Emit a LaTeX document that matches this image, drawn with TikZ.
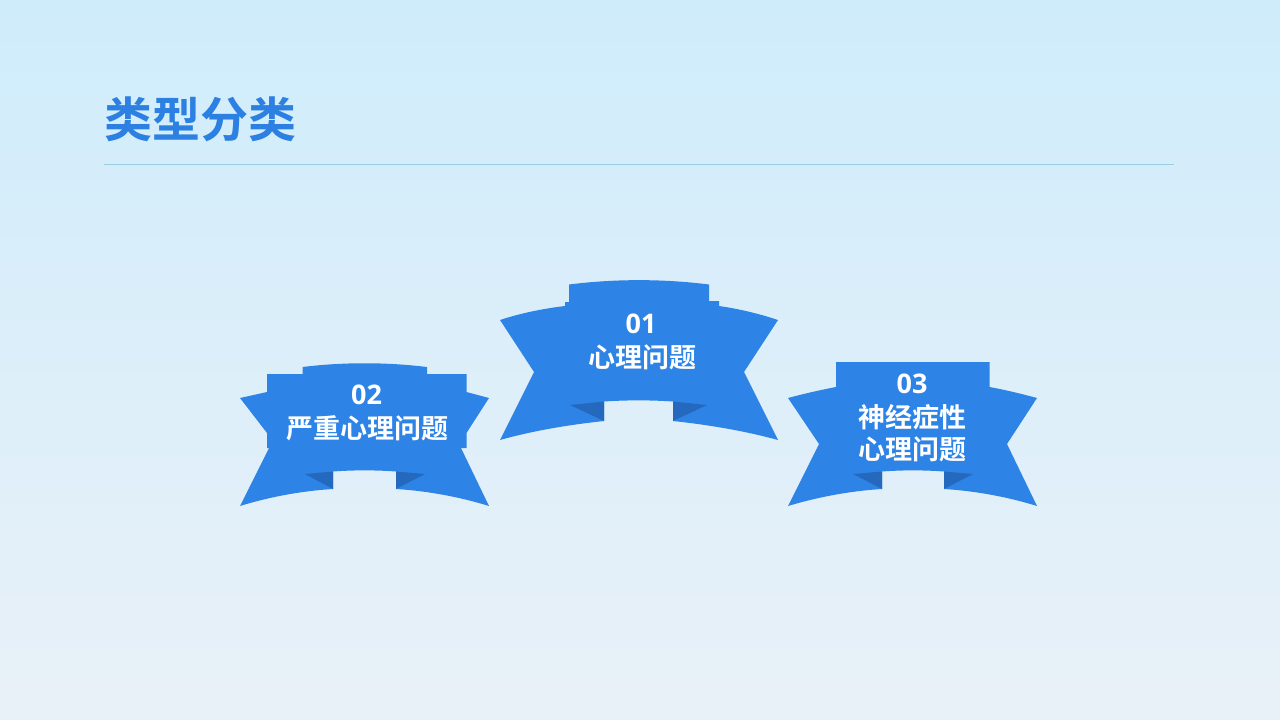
\documentclass[tikz,border=0pt]{standalone}
\usepackage{fontspec}
\setmainfont{Noto Sans CJK SC}[BoldFont={Noto Sans CJK SC Bold}]
\newfontfamily\digitfont{Open Sans}[BoldFont={Open Sans Bold}]
\definecolor{ribbon}{HTML}{2E84E6}
\definecolor{folddark}{HTML}{2569BE}
\definecolor{titleblue}{HTML}{2C80E2}
\definecolor{ruleteal}{HTML}{9CCDE0}
\definecolor{bgtop}{HTML}{CFECFB}
\definecolor{bgbot}{HTML}{E9F1F8}
\tikzset{
  ribbonfill/.style={fill=ribbon,draw=none},
  foldfill/.style={fill=folddark,draw=none},
  label/.style={text=white,font=\bfseries\fontsize{27}{33}\selectfont,align=center,inner sep=0pt},
  num/.style={text=white,font=\digitfont\bfseries\fontsize{27}{33}\selectfont,inner sep=0pt}
}
\begin{document}
\begin{tikzpicture}[x=1pt,y=-1pt]
\useasboundingbox (0,0) rectangle (1280,720);
\shade[top color=bgtop,bottom color=bgbot] (0,0) rectangle (1280,720);
\node[text=titleblue,font=\bfseries\fontsize{48}{58}\selectfont,inner sep=0pt,anchor=west] (title) at (104,119) {类型分类};
\coordinate (ruleL) at (104,164.5);
\coordinate (ruleR) at (1174,164.5);
\draw[ruleteal,line width=0.9pt] (ruleL) -- (ruleR);
% ribbon 01
\fill[ribbonfill] (569,284.5) .. controls (615,278.7) and (663,278.7) .. (709,284.5) -- (709,301) -- (719,301) -- (719,306)
  .. controls (740,309) and (760,314) .. (778,320) -- (744,372) -- (778,440)
  .. controls (745,431) and (710,425) .. (673,421) -- (673,401.5) .. controls (650,400) and (627,400) .. (604,401.5) -- (604,421)
  .. controls (567,425) and (532,431) .. (500,440) -- (534,372) -- (500,320)
  .. controls (518,314) and (540,309) .. (565,306) -- (565,302) -- (569,302) -- cycle;
\fill[foldfill] (570,405) -- (604,401.5) -- (604,421) -- cycle;
\fill[foldfill] (673,401.5) -- (707,405) -- (673,421) -- cycle;
\node[num] (n1) at (641,323.5) {01};
\node[label] (t1) at (642.5,357) {心理问题};
% ribbon 02
\fill[ribbonfill] (302.5,367) .. controls (343,362) and (386,362) .. (427,367) -- (427,374) -- (466.5,374) -- (466.5,392) -- (489,398) -- (466.5,433) -- (466.5,448) -- (461,448) -- (489,506)
  .. controls (460,497) and (428,491) .. (396,489) -- (396,471.5) .. controls (375,470) and (354,470) .. (333,471.5) -- (333,489)
  .. controls (301,491) and (269,497) .. (240,506) -- (269,448) -- (267,448) -- (267,433) -- (240,398) -- (267,392) -- (267,374) -- (302.5,374) -- cycle;
\fill[foldfill] (305,474) -- (333,471.5) -- (333,489) -- cycle;
\fill[foldfill] (396,471.5) -- (425,474) -- (396,489) -- cycle;
\node[num] (n2) at (366.5,395) {02};
\node[label] (t2) at (367,428) {严重心理问题};
% ribbon 03
\fill[ribbonfill] (836,362) -- (989.5,362) -- (989.5,387) .. controls (1006,390) and (1022,394) .. (1037,398) -- (1007,444) -- (1037,506)
  .. controls (1008,497) and (976,491) .. (944,489) -- (944,471.5) .. controls (923,470) and (903,470) .. (882,471.5) -- (882,489)
  .. controls (850,491) and (818,497) .. (788,506) -- (819,444) -- (788,398)
  .. controls (803,394) and (820,390) .. (836,387) -- cycle;
\fill[foldfill] (853,474) -- (882,471.5) -- (882,489) -- cycle;
\fill[foldfill] (944,471.5) -- (973,474) -- (944,489) -- cycle;
\node[num] (n3) at (912,384) {03};
\node[label] (t3a) at (912.5,417) {神经症性};
\node[label] (t3b) at (912.5,449) {心理问题};
\end{tikzpicture}
\end{document}
